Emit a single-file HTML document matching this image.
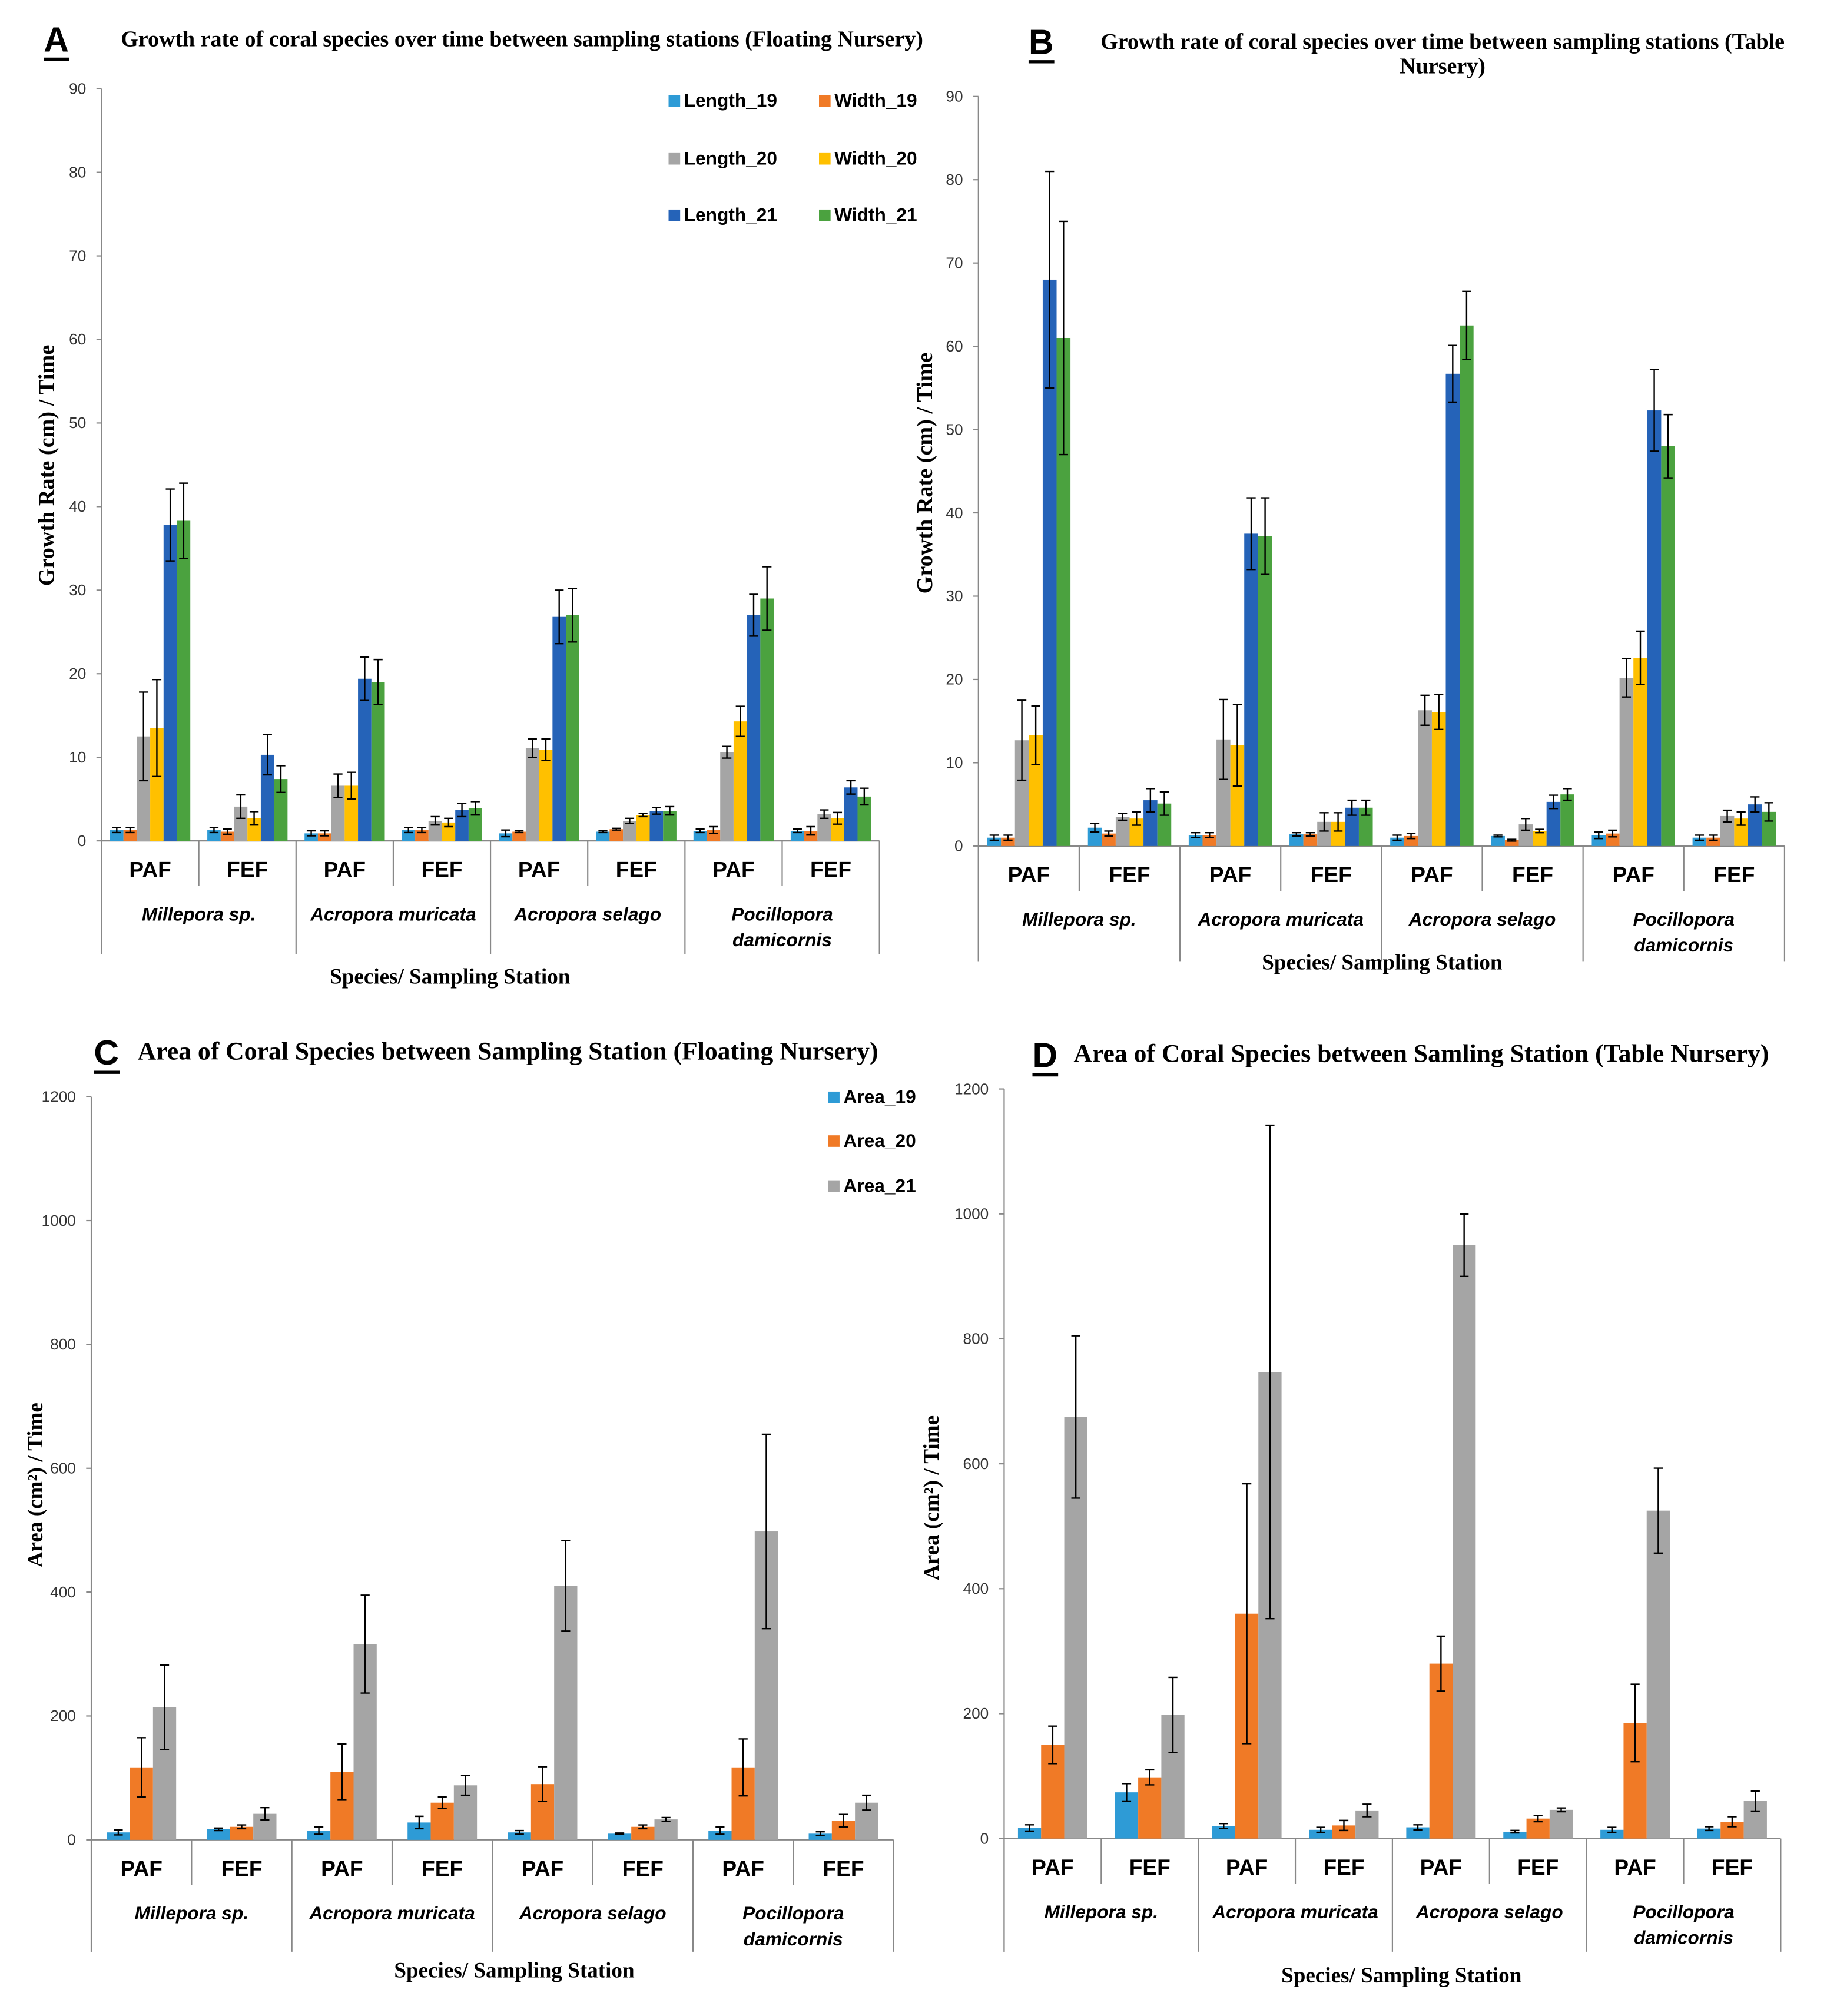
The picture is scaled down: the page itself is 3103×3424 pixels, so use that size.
<!DOCTYPE html>
<html><head><meta charset="utf-8"><style>
html,body{margin:0;padding:0;background:#fff}
svg{display:block}
text{font-family:"Liberation Sans",sans-serif}
.ser{font-family:"Liberation Serif",serif;font-weight:bold}
</style></head><body>
<svg id="fig" width="3103" height="3424" viewBox="0 0 1421 1568" preserveAspectRatio="none" xmlns="http://www.w3.org/2000/svg"></svg>
<script>
const categories=["PAF","FEF","PAF","FEF","PAF","FEF","PAF","FEF"];
const species=[["Millepora sp."],["Acropora muricata"],["Acropora selago"],["Pocillopora","damicornis"]];
const seriesGrowth=["Length_19","Width_19","Length_20","Width_20","Length_21","Width_21"];
const seriesArea=["Area_19","Area_20","Area_21"];
const ticksGrowth=[0,10,20,30,40,50,60,70,80,90];
const ticksArea=[0,200,400,600,800,1000,1200];
const valuesA=[[1.3,1.3,12.5,13.5,37.8,38.3],[1.3,1.1,4.1,2.7,10.3,7.4],[0.9,0.9,6.6,6.6,19.4,19.0],[1.3,1.3,2.4,2.2,3.7,3.9],[0.9,1.1,11.1,10.9,26.8,27.0],[1.1,1.4,2.4,3.1,3.6,3.6],[1.2,1.3,10.6,14.3,27.0,29.0],[1.2,1.2,3.2,2.7,6.4,5.3]];
const errorsA=[[0.3,0.3,5.3,5.8,4.3,4.5],[0.3,0.3,1.4,0.8,2.4,1.6],[0.3,0.3,1.4,1.6,2.6,2.7],[0.3,0.3,0.5,0.5,0.8,0.8],[0.4,0.1,1.1,1.3,3.2,3.2],[0.1,0.1,0.3,0.2,0.4,0.5],[0.2,0.4,0.7,1.8,2.5,3.8],[0.2,0.5,0.5,0.7,0.8,1.0]];
const valuesB=[[1.0,1.0,12.7,13.3,68,61],[2.2,1.5,3.5,3.3,5.5,5.1],[1.3,1.3,12.8,12.1,37.5,37.2],[1.4,1.4,2.9,2.9,4.6,4.6],[1.0,1.2,16.3,16.1,56.7,62.5],[1.2,0.7,2.6,1.8,5.3,6.2],[1.3,1.5,20.2,22.6,52.3,48.0],[1.0,1.0,3.6,3.3,5.0,4.1]];
const errorsB=[[0.3,0.3,4.8,3.5,13,14],[0.5,0.3,0.4,0.8,1.4,1.4],[0.3,0.3,4.8,4.9,4.3,4.6],[0.2,0.2,1.1,1.1,0.9,0.9],[0.3,0.3,1.8,2.1,3.4,4.1],[0.1,0.1,0.7,0.2,0.8,0.7],[0.4,0.4,2.3,3.2,4.9,3.8],[0.3,0.3,0.7,0.8,0.9,1.1]];
const valuesC=[[12,117,214],[17,21,42],[15,110,316],[28,60,88],[12,90,410],[10,21,33],[15,117,498],[10,31,60]];
const errorsC=[[4,48,68],[2,3,10],[6,45,79],[10,9,16],[3,28,73],[1,3,3],[6,46,157],[3,10,12]];
const valuesD=[[17,150,675],[74,98,198],[20,360,747],[14,21,45],[18,280,950],[11,32,46],[14,185,525],[16,27,60]];
const errorsD=[[5,30,130],[14,12,60],[4,208,395],[4,8,10],[4,44,50],[2,5,3],[4,62,68],[3,8,16]];
const colGrowth=["#2E9BD6","#F07A26","#A5A5A5","#FFC000","#2563B8","#4BA23F"];
const colArea=["#2E9BD6","#F07A26","#A5A5A5"];

const NS="http://www.w3.org/2000/svg";
const fig=document.getElementById('fig');
function mk(tag,attrs,parent,txt){const e=document.createElementNS(NS,tag);for(const k in attrs)e.setAttribute(k,attrs[k]);if(txt!==undefined)e.textContent=txt;(parent||fig).appendChild(e);return e;}

function chart(c){
  const g=mk('g',{});
  
  
  const ymax=c.ticks[c.ticks.length-1];
  const Y=v=>c.y0-(v/ymax)*(c.y0-c.ytop);
  const cw=(c.xr-c.x0)/categories.length;
  const lt=mk('text',{x:c.lx,y:c.ty+4,'font-size':27,'font-weight':'bold'},g,c.letter);
  
  
  mk('line',{x1:c.lx,x2:c.lx+20,y1:c.ty+10,y2:c.ty+10,stroke:'#000','stroke-width':2.5},g);
  c.title.forEach((t,i)=>{const e=mk('text',{x:c.tx,y:c.ty+i*19,'font-size':c.tfs,'text-anchor':c.tanchor||'start',class:'ser'},g,t);
    
    });
  mk('line',{x1:c.x0,x2:c.x0,y1:c.ytop,y2:c.ybot,stroke:'#888','stroke-width':1},g);
  mk('line',{x1:c.x0,x2:c.xr,y1:c.y0,y2:c.y0,stroke:'#888','stroke-width':1},g);
  c.ticks.forEach(t=>{const y=Y(t);mk('line',{x1:c.x0-4,x2:c.x0,y1:y,y2:y,stroke:'#888'},g);
    const e=mk('text',{x:c.x0-12,y:y+4,'font-size':12,'text-anchor':'end',fill:'#333'},g,t);
    
    });
  const yl=mk('text',{x:0,y:0,'font-size':c.ylfs,'text-anchor':'middle',class:'ser',transform:`translate(${c.ylx},${c.yly}) rotate(-90)`},g,c.ylabel);
  
  
  for(let i=0;i<=categories.length;i++){const x=c.x0+i*cw;
    mk('line',{x1:x,x2:x,y1:c.y0,y2:(i%2==0)?c.ybot:c.y0+35,stroke:'#888'},g);}
  categories.forEach((cat,i)=>{const e=mk('text',{x:c.x0+(i+0.5)*cw,y:c.y0+28,'font-size':17,'font-weight':'bold','text-anchor':'middle'},g,cat);
    
    });
  species.forEach((sp,i)=>{sp.forEach((s,j)=>{const e=mk('text',{x:c.x0+(2*i+1)*cw,y:c.y0+62+j*20,'font-size':14.5,'font-weight':'bold','font-style':'italic','text-anchor':'middle'},g,s);
    
    });});
  const xt=mk('text',{x:c.xtx,y:c.xty,'font-size':17,'text-anchor':'middle',class:'ser'},g,'Species/ Sampling  Station');
  
  
  const n=c.series.length, bw=c.bw, off=(cw-n*bw)/2;
  c.values.forEach((row,i)=>{row.forEach((v,j)=>{
    const x=c.x0+i*cw+off+j*bw;
    const r=mk('rect',{x:x,y:Y(v),width:bw,height:c.y0-Y(v),fill:c.colors[j]},g);
    
    
    const e=c.errors[i][j], cx=x+bw/2;
    mk('path',{d:`M${cx},${Y(v+e)}V${Y(Math.max(0,v-e))}M${cx-3.5},${Y(v+e)}h7M${cx-3.5},${Y(Math.max(0,v-e))}h7`,stroke:'#000','stroke-width':1.1,fill:'none'},g);
  });});
  if(c.legX.length){
  c.series.forEach((s,j)=>{const lx=c.legX[j%c.legCols],ly=c.legY[Math.floor(j/c.legCols)];
    mk('rect',{x:lx,y:ly-9,width:9,height:9,fill:c.colors[j]},g);
    const e=mk('text',{x:lx+12,y:ly,'font-size':14.5,'font-weight':'bold'},g,s);
    
    });
  }
}

chart({name:'chart-a',letter:'A',lx:34,ty:36,tx:94,tfs:17.4,title:['Growth  rate of coral  species over time between sampling  stations (Floating  Nursery)'],
  x0:79,xr:684,y0:654,ytop:69,ybot:742,ticks:ticksGrowth,ylabel:'Growth  Rate (cm) / Time',ylfs:17.5,ylx:42,yly:362,xtx:350,xty:765,
  series:seriesGrowth,colors:colGrowth,values:valuesA,errors:errorsA,bw:10.4,legX:[520,637],legY:[83,128,172],legCols:2});
chart({name:'chart-b',letter:'B',lx:800,ty:38,tx:1122,tanchor:'middle',tfs:17.4,title:['Growth  rate of coral  species over time between sampling  stations (Table','Nursery)'],
  x0:761,xr:1388,y0:658,ytop:75,ybot:748,ticks:ticksGrowth,ylabel:'Growth  Rate (cm) / Time',ylfs:17.5,ylx:725,yly:368,xtx:1075,xty:754,
  series:seriesGrowth,colors:colGrowth,values:valuesB,errors:errorsB,bw:10.8,legX:[],legY:[],legCols:2});
chart({name:'chart-c',letter:'C',lx:73,ty:824,tx:107,tfs:20,title:['Area of Coral Species between Sampling Station (Floating Nursery)'],
  x0:71,xr:695,y0:1431,ytop:853,ybot:1518,ticks:ticksArea,ylabel:'Area (cm²) / Time',ylfs:17,ylx:33,yly:1155,xtx:400,xty:1538,
  series:seriesArea,colors:colArea,values:valuesC,errors:errorsC,bw:18,legX:[644],legY:[858,892,927],legCols:1});
chart({name:'chart-d',letter:'D',lx:803,ty:826,tx:835,tfs:20,title:['Area of Coral Species between Samling Station (Table Nursery)'],
  x0:781,xr:1385,y0:1430,ytop:847,ybot:1518,ticks:ticksArea,ylabel:'Area (cm²) / Time',ylfs:17,ylx:730,yly:1165,xtx:1090,xty:1542,
  series:seriesArea,colors:colArea,values:valuesD,errors:errorsD,bw:18,legX:[],legY:[],legCols:1});
</script>
</body></html>
